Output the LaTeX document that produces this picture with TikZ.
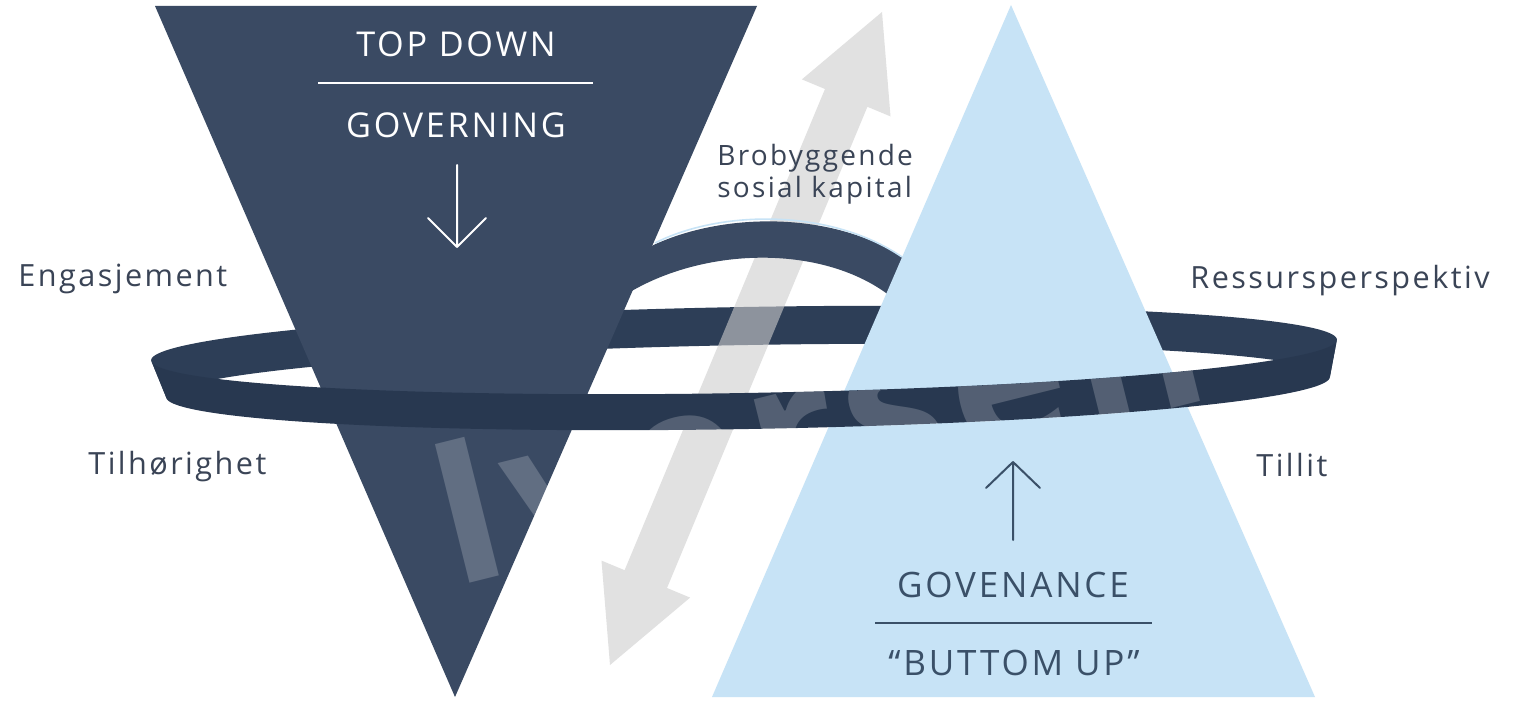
\documentclass[tikz,border=0pt]{standalone}
\usepackage{fontspec}
\setmainfont{Open Sans}[LetterSpace=8]
\newfontfamily\wmfont{Open Sans}[LetterSpace=4]
\definecolor{navy}{RGB}{58,74,99}
\definecolor{ringback}{RGB}{45,62,87}
\definecolor{ringfront}{RGB}{40,56,80}
\definecolor{skyblue}{RGB}{199,227,246}
\definecolor{arrowgrey}{RGB}{205,205,205}
\definecolor{textdark}{RGB}{58,68,86}
\definecolor{govtext}{RGB}{58,80,104}
\tikzset{
  wlabel/.style={text=white, font=\fontsize{17.1}{20}\selectfont, inner sep=0pt, anchor=base},
  sidelabel/.style={text=textdark, font=\fontsize{15.3}{18}\selectfont, inner sep=0pt, anchor=base west},
  bridgelabel/.style={text=textdark, font=\fontsize{14}{16}\selectfont, inner sep=0pt, anchor=base west},
  govlabel/.style={text=govtext, font=\fontsize{17.5}{21}\selectfont, inner sep=0pt, anchor=base},
  wrule/.style={draw=white, line width=1pt},
  drule/.style={draw=govtext, line width=1.2pt},
  warrow/.style={draw=white, line width=1pt, line cap=round},
  darrow/.style={draw=govtext, line width=1pt, line cap=round},
  bigarrow/.style={fill=arrowgrey, fill opacity=0.6},
  bridgeedge/.style={draw=skyblue, line width=0.8pt},
  wmark/.style={text=white, text opacity=0.2, font=\wmfont\bfseries\fontsize{100}{100}\selectfont, inner sep=0pt, rotate=14, anchor=base west},
}
\newcommand{\frontring}{plot[domain=0:180,samples=120,variable=\t] ({744+592.9*cos(\t)+0.75*sin(\t)},{350-10.35*cos(\t)+43*sin(\t)})
  -- plot[domain=180:0,samples=120,variable=\t] ({748+581.9*cos(\t)+0.73*sin(\t)},{387-10.16*cos(\t)+42*sin(\t)})
  -- cycle}
\begin{document}
\begin{tikzpicture}[x=0.5pt,y=-0.5pt]
\useasboundingbox (0,0) rectangle (1519,701);
\fill[white] (0,0) rectangle (1519,701);

% back half of the ring
\fill[ringback]
  plot[domain=180:360,samples=120,variable=\t] ({744+592.9*cos(\t)+0.75*sin(\t)},{350-10.35*cos(\t)+43*sin(\t)})
  -- plot[domain=360:180,samples=120,variable=\t] ({748+581.9*cos(\t)+0.73*sin(\t)},{387-10.16*cos(\t)+42*sin(\t)})
  -- cycle;

% big grey double arrow
\fill[bigarrow] (882,12) -- (890.5,116.4) -- (867.4,106.8) -- (667.0,588.0) -- (690.1,597.6)
  -- (610,665) -- (601.5,560.6) -- (624.6,570.2) -- (825.0,89.0) -- (801.9,79.4) -- cycle;

% bridge
\fill[navy] (630,258) .. controls (700,212) and (830,205) .. (910,262)
  -- (895,300) .. controls (830,245) and (710,245) .. (630,292) -- cycle;
\draw[bridgeedge] (655,243) .. controls (720,210) and (830,208) .. (902,257);

% triangles
\fill[navy] (155,6) -- (757,6) -- (455,697) -- cycle;
\fill[skyblue] (1011,5) -- (1315,697) -- (712,697) -- cycle;

% front half of the ring
\fill[ringfront] \frontring;

% watermark, seen only on the dark parts
\begin{scope}
  \clip (155,6) -- (455,697) -- (757,6) -- cycle \frontring;
  \node[wmark] (wm) at (452,588) {Iversen};
\end{scope}

% top down block
\node[wlabel] (td) at (456,57) {TOP DOWN};
\coordinate (tdl) at (318,83);
\coordinate (tdr) at (593,83);
\draw[wrule] (tdl) -- (tdr);
\node[wlabel] (gov) at (456,137) {GOVERNING};
\coordinate (dA) at (457,165);
\coordinate (dB) at (457,247);
\draw[warrow] (dA) -- (dB) (dB) -- ++(-29,-29) (dB) -- ++(29,-29);

% bottom up block
\coordinate (uA) at (1013,540);
\coordinate (uB) at (1013,462);
\draw[darrow] (uA) -- (uB) (uB) -- ++(-27,26) (uB) -- ++(27,26);
\node[govlabel] (gn) at (1013,597) {GOVENANCE};
\coordinate (bul) at (875,623);
\coordinate (bur) at (1152,623);
\draw[drule] (bul) -- (bur);
\node[govlabel] (bu) at (1014,675) {“BUTTOM UP”};

% side labels
\node[sidelabel] (eng) at (18,286) {Engasjement};
\node[sidelabel] (til) at (88,474) {Tilhørighet};
\node[sidelabel] (res) at (1190,288) {Ressursperspektiv};
\node[sidelabel] (tlt) at (1256,476) {Tillit};
\node[bridgelabel] (bro) at (717,165) {Brobyggende};
\node[bridgelabel] (sos) at (717,197) {sosial kapital};
\end{tikzpicture}
\end{document}
